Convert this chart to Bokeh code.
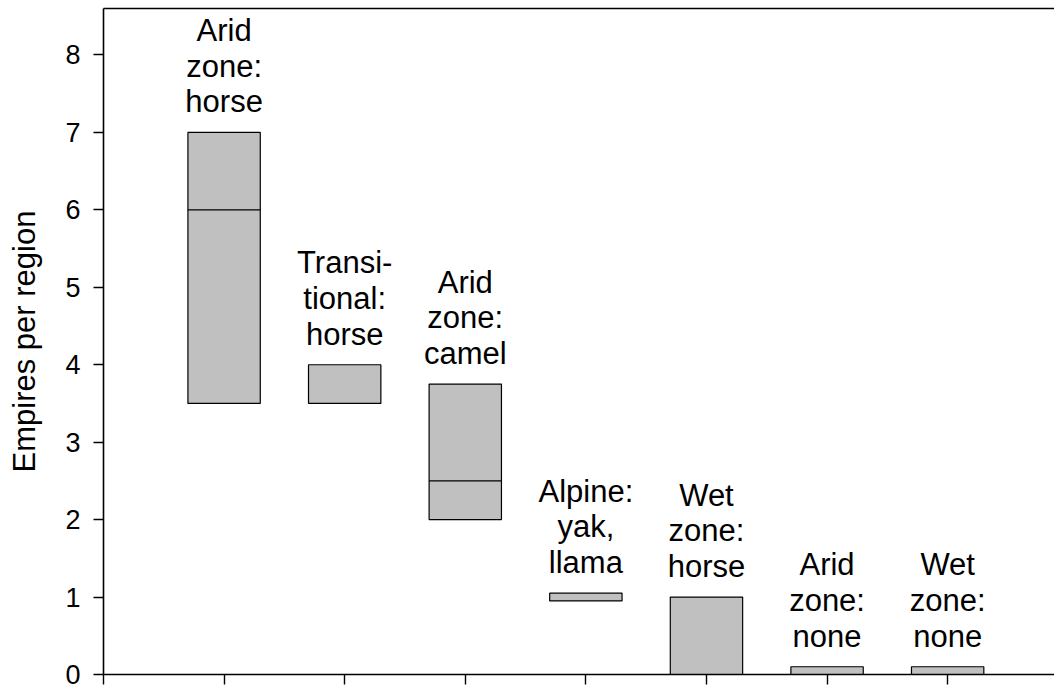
from bokeh.plotting import figure
from bokeh.models import ColumnDataSource, LinearAxis, FixedTicker, Range1d
from bokeh.core.properties import value
from bokeh.embed import file_html
from bokeh.resources import INLINE

# ---- data ----
groups = ["Arid\nzone:\nhorse", "Transi-\ntional:\nhorse", "Arid\nzone:\ncamel",
          "Alpine:\nyak,\nllama", "Wet\nzone:\nhorse", "Arid\nzone:\nnone", "Wet\nzone:\nnone"]
positions = [1, 2, 3, 4, 5, 6, 7]
low = [3.5, 3.5, 2.0, 0.95, 0.0, 0.0, 0.0]
high = [7.0, 4.0, 3.75, 1.05, 1.0, 0.1, 0.1]
median = [6.0, None, 2.5, None, None, None, None]
y_ticks = [0, 1, 2, 3, 4, 5, 6, 7, 8]
x_ticks = [0, 1, 2, 3, 4, 5, 6, 7]

FONT = "Liberation Sans"
BAR_W = 0.6

p = figure(width=1054, height=691, output_backend="svg", toolbar_location=None,
           x_range=Range1d(0, 7.886), y_range=Range1d(0, 8.6),
           min_border_left=103, min_border_right=0, min_border_top=8, min_border_bottom=17)
p.outline_line_color = None
p.grid.visible = False
p.background_fill_color = "white"
p.border_fill_color = "white"

# boxes
src = ColumnDataSource(dict(x=positions, low=low, high=high))
p.vbar(x="x", bottom="low", top="high", width=BAR_W, source=src,
       fill_color="#c0c0c0", line_color="black", line_width=1.2)

# medians
mx0 = [x - BAR_W / 2 for x, m in zip(positions, median) if m is not None]
mx1 = [x + BAR_W / 2 for x, m in zip(positions, median) if m is not None]
my = [m for m in median if m is not None]
p.segment(x0=mx0, x1=mx1, y0=my, y1=my, line_color="black", line_width=1.2)

# labels above boxes
lsrc = ColumnDataSource(dict(x=positions, y=high, t=groups))
p.text(x="x", y="y", text="t", source=lsrc, text_align="center", text_baseline="bottom",
       y_offset=-13, text_font=value(FONT), text_font_size="31px", text_color="black",
       text_line_height=1.02)

# axes
xa = p.xaxis[0]
xa.ticker = FixedTicker(ticks=x_ticks)
xa.major_label_overrides = {t: "" for t in x_ticks}
xa.major_label_text_font_size = "1px"
xa.major_label_standoff = 0
xa.major_tick_out = 10
xa.major_tick_in = 0
xa.minor_tick_line_color = None
xa.axis_line_color = "black"
xa.axis_line_width = 1.6
xa.major_tick_line_color = "black"
xa.major_tick_line_width = 1.4

ya = p.yaxis[0]
ya.ticker = FixedTicker(ticks=y_ticks)
ya.major_tick_out = 10
ya.major_tick_in = 0
ya.minor_tick_line_color = None
ya.axis_line_width = 1.6
ya.major_tick_line_width = 1.4
ya.major_label_standoff = 13
ya.major_label_text_font = FONT
ya.major_label_text_font_size = "27px"
ya.major_label_text_color = "black"
ya.axis_label = "Empires per region"
ya.axis_label_text_font = FONT
ya.axis_label_text_font_size = "31px"
ya.axis_label_text_font_style = "normal"
ya.axis_label_text_color = "black"
ya.axis_label_standoff = 20

top = LinearAxis(ticker=FixedTicker(ticks=[]), major_label_text_font_size="1px",
                 major_tick_out=0, major_tick_in=0, minor_tick_out=0, minor_tick_in=0,
                 major_label_standoff=0, axis_line_color="black", axis_line_width=1.6)
p.add_layout(top, "above")

open("out.html", "w").write(file_html(p, INLINE))
